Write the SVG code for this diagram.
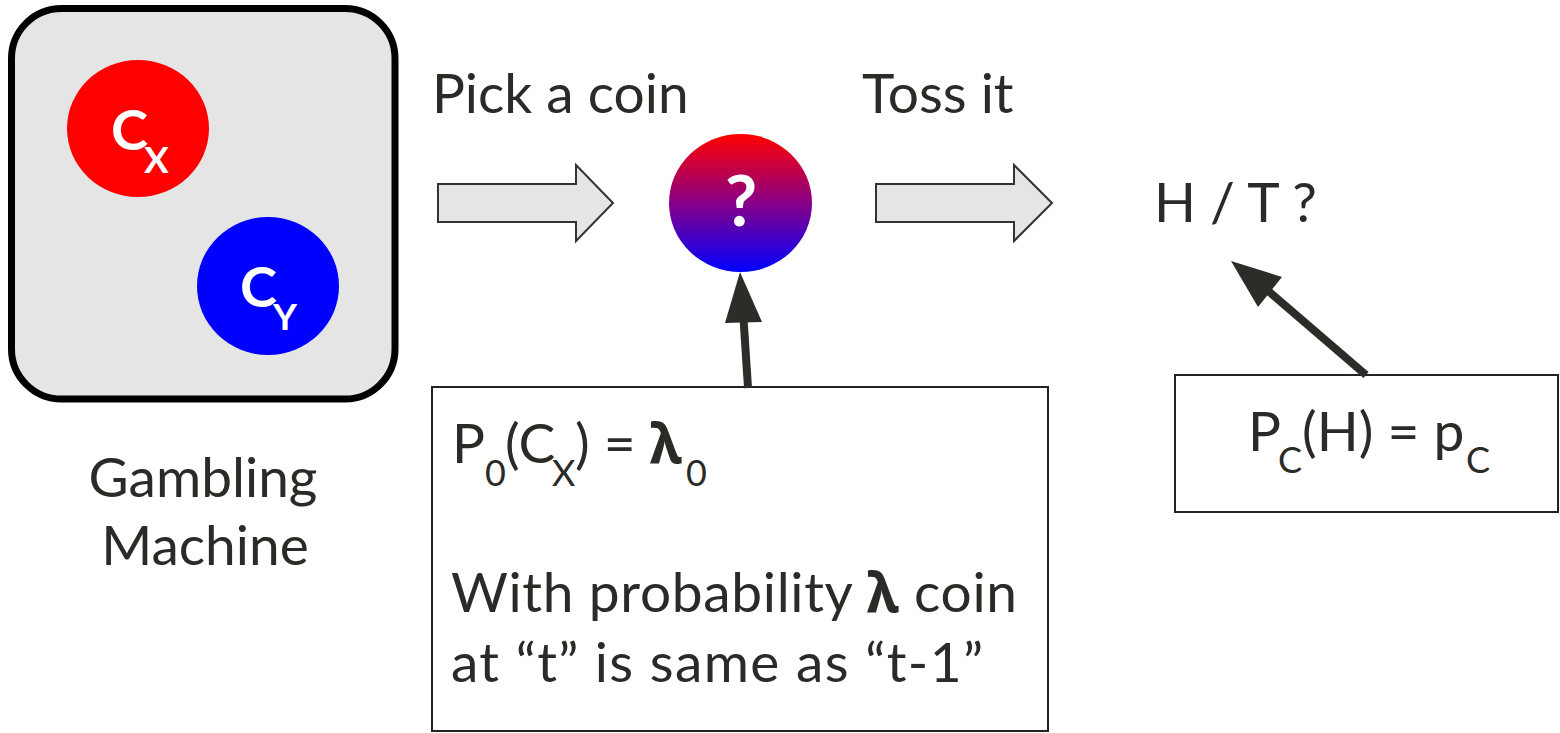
<svg xmlns="http://www.w3.org/2000/svg" width="1560" height="733" viewBox="0 0 1560 733">
<defs>
<linearGradient id="coinGrad" x1="0" y1="0" x2="0" y2="1">
<stop offset="0" stop-color="#ff0000"/>
<stop offset="0.5" stop-color="#880088"/>
<stop offset="1" stop-color="#0000ff"/>
</linearGradient>
<style>
.t{font-family:Lato,"Noto Sans","DejaVu Sans",sans-serif;fill:#2b2a27;font-size:55px}
.sub{font-size:36px}
.w{font-family:Lato,"Noto Sans","DejaVu Sans",sans-serif;fill:#ffffff;font-weight:bold}
.lam{font-family:"Noto Sans","DejaVu Sans",sans-serif;font-weight:bold}
.block{fill:#e5e5e5;stroke:#333333;stroke-width:2}
.box{fill:#ffffff;stroke:#222222;stroke-width:2}
.conn{stroke:#2d2c28;stroke-width:8;fill:none}
.head{fill:#2d2c28}
</style>
</defs>
<rect width="1560" height="733" fill="#ffffff"/>

<g id="machine">
<rect x="11.5" y="8.5" width="383.5" height="390.5" rx="50" ry="50" fill="#e5e5e5" stroke="#000000" stroke-width="7"/>
<g id="coinX">
<ellipse cx="138" cy="128.5" rx="71" ry="68.5" fill="#ff0000"/>
<text class="w" font-size="56" x="111" y="150">C<tspan font-size="37" x="144" y="173">X</tspan></text>
</g>
<g id="coinY">
<ellipse cx="268" cy="286" rx="71" ry="69" fill="#0000ff"/>
<text class="w" font-size="56" x="240" y="307">C<tspan font-size="37" x="273" y="330">Y</tspan></text>
</g>
</g>

<g id="machineLabel">
<text class="t" x="203" y="497" text-anchor="middle" font-size="56">Gambling</text>
<text class="t" x="205" y="565" text-anchor="middle" font-size="56">Machine</text>
</g>

<g id="pickLabel"><text class="t" x="432" y="113">Pick a coin</text></g>
<g id="tossLabel"><text class="t" x="862" y="113">Toss it</text></g>

<g id="mysteryCoin">
<ellipse cx="740.5" cy="203" rx="71.5" ry="69" fill="url(#coinGrad)"/>
<text class="w" font-size="70" x="741" y="226" text-anchor="middle">?</text>
</g>

<g id="outcome"><text class="t" x="1154" y="222">H / T ?</text></g>

<g id="initBox">
<rect class="box" x="432" y="387" width="616" height="344"/>
<text class="t" x="452" y="463">P<tspan class="sub" x="485" y="486">0</tspan><tspan x="505" y="463">(C</tspan><tspan class="sub" x="552" y="486">X</tspan><tspan x="575" y="463">) =</tspan><tspan class="lam" x="650" y="463">λ</tspan><tspan class="sub" x="686" y="486">0</tspan></text>
<text class="t" x="451" y="612" textLength="566" lengthAdjust="spacing">With probability <tspan class="lam">λ</tspan> coin</text>
<text class="t" x="451" y="682" textLength="532" lengthAdjust="spacing">at “t” is same as “t-1”</text>
</g>

<g id="emitBox">
<rect class="box" x="1175" y="375" width="383" height="137"/>
<text class="t" x="1248" y="451">P<tspan class="sub" x="1278" y="473">C</tspan><tspan x="1302" y="451">(H) = p</tspan><tspan class="sub" x="1466" y="473">C</tspan></text>
</g>

<g id="connectors">
<path class="block" d="M438,184 L576,184 L576,165 L613,203 L576,241 L576,222 L438,222 Z"/>
<path class="block" d="M876,184 L1014,184 L1014,165 L1052,203 L1014,241 L1014,222 L876,222 Z"/>
<line class="conn" x1="748" y1="388" x2="743.5" y2="318"/>
<polygon class="head" points="740,272 725,323 762,322"/>
<line class="conn" x1="1366" y1="375" x2="1266" y2="289"/>
<polygon class="head" points="1231,261 1258,307 1282,277"/>
</g>
</svg>
